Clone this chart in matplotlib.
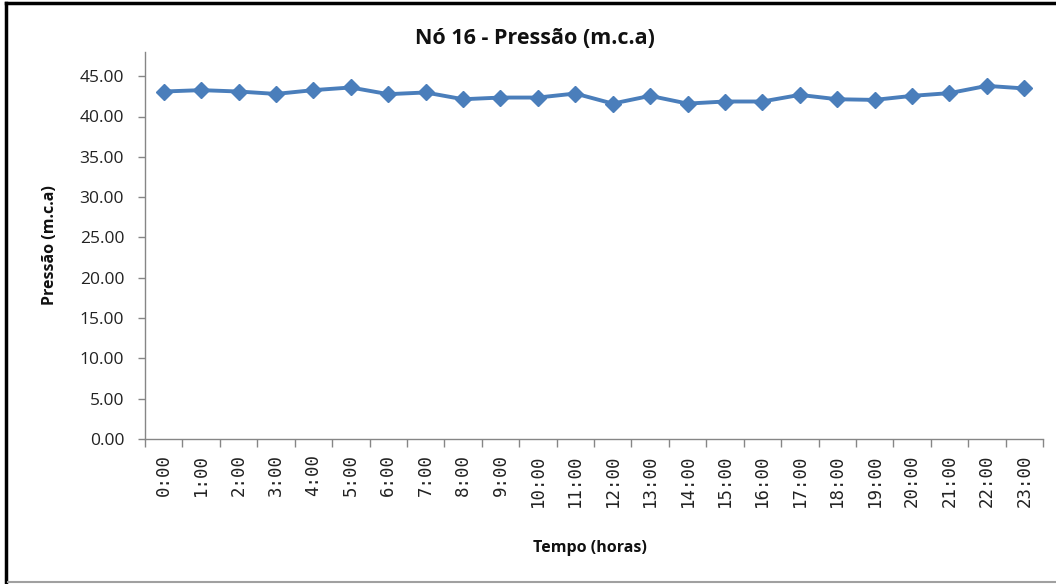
import matplotlib
matplotlib.use("Agg")
import matplotlib.pyplot as plt
from matplotlib.lines import Line2D

hours = ["0:00", "1:00", "2:00", "3:00", "4:00", "5:00", "6:00", "7:00", "8:00", "9:00",
         "10:00", "11:00", "12:00", "13:00", "14:00", "15:00", "16:00", "17:00", "18:00",
         "19:00", "20:00", "21:00", "22:00", "23:00"]
pressure = [43.1, 43.27, 43.1, 42.8, 43.27, 43.6, 42.77, 42.98, 42.14, 42.35, 42.35, 42.85,
            41.6, 42.56, 41.6, 41.86, 41.86, 42.68, 42.14, 42.06, 42.56, 42.9, 43.8, 43.48]
yticks = [0, 5, 10, 15, 20, 25, 30, 35, 40, 45]

W, H = 1056, 584
fig = plt.figure(figsize=(W / 100, H / 100), dpi=100)
ax = fig.add_axes([145 / W, 1 - 439 / H, (1043 - 145) / W, (439 - 52) / H])

x = list(range(len(hours)))
ax.plot(x, pressure, color="#4A7EBB", linewidth=2.8, marker="D", markersize=8.5,
        markerfacecolor="#4A7EBB", markeredgecolor="#4A7EBB", zorder=3)

ax.set_xlim(-0.5, len(hours) - 0.5)
ax.set_ylim(0, 48)
ax.set_yticks(yticks)
ax.set_yticklabels([f"{v:.2f}" for v in yticks], fontsize=12.5, family="Open Sans",
                   color="#222222")
ax.set_xticks(x)
ax.set_xticklabels(hours, rotation=90, fontsize=12.5, family="DejaVu Sans Mono",
                   color="#222222")
ax.tick_params(axis="x", length=0, pad=11)
ax.set_xticks([i - 0.5 for i in range(len(hours) + 1)], minor=True)
ax.tick_params(axis="x", which="minor", length=6, color="#868686", width=1)
ax.tick_params(axis="y", length=5, color="#868686", width=1, pad=10)

for s in ["top", "right"]:
    ax.spines[s].set_visible(False)
for s in ["left", "bottom"]:
    ax.spines[s].set_color("#868686")
    ax.spines[s].set_linewidth(1)

fig.text(535 / W, 1 - 38 / H, "Nó 16 - Pressão (m.c.a)", ha="center", va="center",
         fontsize=15.5, fontweight="bold", family="Open Sans", color="#111111")
fig.text(590 / W, 1 - 548 / H, "Tempo (horas)", ha="center", va="center",
         fontsize=11.5, fontweight="bold", family="Open Sans", color="#111111")
fig.text(50 / W, 1 - 245 / H, "Pressão (m.c.a)", ha="center", va="center",
         fontsize=11.5, fontweight="bold", family="Open Sans", rotation=90, color="#111111")

# outer frame
fig.add_artist(Line2D([6 / W, 6 / W], [0, 1 - 3 / H], transform=fig.transFigure,
                      color="black", linewidth=2.5))
fig.add_artist(Line2D([6 / W, 1], [1 - 3 / H, 1 - 3 / H], transform=fig.transFigure,
                      color="black", linewidth=2.5))
fig.add_artist(Line2D([8 / W, 1], [1 - 582 / H, 1 - 582 / H], transform=fig.transFigure,
                      color="#A0A0A0", linewidth=1.5))

fig.savefig("out.png", dpi=100)
